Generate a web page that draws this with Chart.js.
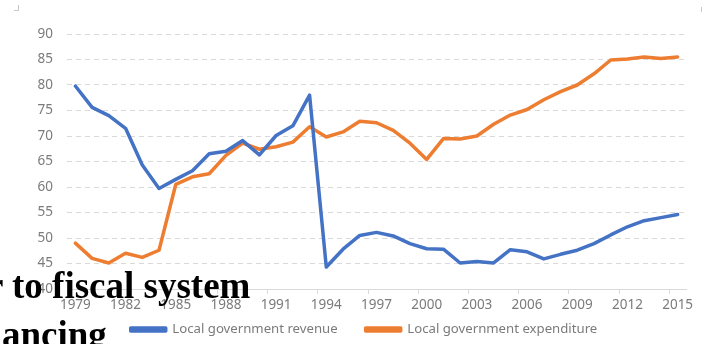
<!DOCTYPE html>
<html>
<head>
<meta charset="utf-8">
<script src="https://cdn.jsdelivr.net/npm/chart.js@4/dist/chart.umd.min.js"></script>
<style>
  html, body { margin: 0; padding: 0; background: #fff; }
  #wrap { position: relative; width: 704px; height: 344px; overflow: hidden; }
  #c { position: absolute; left: 0; top: 0; }
  .mark { position: absolute; border-color: #c8c8c8; border-style: solid; border-width: 0; }
  .overlay {
    position: absolute; white-space: nowrap; color: #000;
    font-family: "Liberation Serif", "DejaVu Serif", serif; font-weight: bold;
    font-size: 37px; line-height: 36px; z-index: 2;
  }
</style>
</head>
<body>
<div id="wrap">
  <canvas id="c" width="704" height="344"></canvas>
  <div class="mark" style="left:14px;top:5px;width:4px;height:5px;border-right-width:1px;border-bottom-width:1px;"></div>
  <div class="mark" style="left:701px;top:7px;width:3px;height:5px;border-left-width:1px;"></div>
  <div class="overlay" style="left:-13px;top:268px;">r to fiscal system</div>
  <div class="overlay" style="left:2px;top:317px;">ancing</div>
</div>
<script>
// Years on the category axis
const years = [
  '1979','1980','1981','1982','1983','1984','1985','1986','1987','1988',
  '1989','1990','1991','1992','1993','1994','1995','1996','1997','1998',
  '1999','2000','2001','2002','2003','2004','2005','2006','2007','2008',
  '2009','2010','2011','2012','2013','2014','2015'
];

// Share of local government revenue (%)
const localRevenue = [
  79.8, 75.6, 74.0, 71.5, 64.3, 59.7, 61.5, 63.2, 66.5, 67.0,
  69.1, 66.3, 70.1, 72.0, 78.0, 44.3, 47.8, 50.5, 51.1, 50.4,
  48.9, 47.9, 47.8, 45.1, 45.4, 45.1, 47.7, 47.3, 45.9, 46.8,
  47.6, 48.9, 50.6, 52.2, 53.4, 54.0, 54.6
];

// Share of local government expenditure (%)
const localExpenditure = [
  49.0, 46.0, 45.1, 47.0, 46.2, 47.6, 60.5, 62.0, 62.6, 66.2,
  68.6, 67.4, 67.9, 68.8, 71.8, 69.8, 70.8, 72.9, 72.6, 71.1,
  68.6, 65.4, 69.5, 69.4, 70.0, 72.3, 74.1, 75.2, 77.1, 78.7,
  80.0, 82.2, 84.9, 85.1, 85.5, 85.2, 85.5
];

const seriesNames = ['Local government revenue', 'Local government expenditure'];
const yMin = 40, yMax = 90, yStep = 5;
const labelEvery = 3;

const BLUE = '#4472C4';
const ORANGE = '#ED7D31';
const AXIS_GREY = '#d9d9d9';
const TEXT_GREY = '#7b7b7b';
const UI_FONT = '"Noto Sans", "Open Sans", sans-serif';

// Grows the laid-out legend box upward and shifts it right,
// so its single row sits just under the axis labels
const legendNudge = {
  id: 'legendNudge',
  afterLayout(chart, args, opts) {
    const lg = chart.legend;
    if (!lg) return;
    lg.left += opts.dx; lg.right += opts.dx;
    lg.top += opts.dy;
    lg.height = lg.bottom - lg.top;
  }
};

new Chart(document.getElementById('c'), {
  type: 'line',
  data: {
    labels: years,
    datasets: [
      {
        label: seriesNames[0], data: localRevenue,
        borderColor: BLUE, backgroundColor: BLUE,
        borderWidth: 3.5, pointRadius: 0, tension: 0,
        borderJoinStyle: 'round', borderCapStyle: 'round'
      },
      {
        label: seriesNames[1], data: localExpenditure,
        borderColor: ORANGE, backgroundColor: ORANGE,
        borderWidth: 3.5, pointRadius: 0, tension: 0,
        borderJoinStyle: 'round', borderCapStyle: 'round'
      }
    ]
  },
  plugins: [legendNudge],
  options: {
    responsive: false,
    animation: false,
    layout: { padding: { left: 20, right: 18, top: 34, bottom: 0 } },
    plugins: {
      tooltip: { enabled: false },
      legendNudge: { dx: 11, dy: -22 },
      legend: {
        position: 'bottom',
        maxHeight: 27,
        labels: {
          boxWidth: 35, boxHeight: 3, padding: 28,
          color: TEXT_GREY,
          font: { family: UI_FONT, size: 13.2 }
        }
      }
    },
    scales: {
      x: {
        offset: true,
        afterFit: (s) => { s.height = 28; },
        grid: {
          offset: true, drawOnChartArea: false, drawTicks: true, tickLength: 5,
          color: (ctx) => (ctx.index % labelEvery === 0 ? AXIS_GREY : 'rgba(0,0,0,0)'),
          tickColor: (ctx) => (ctx.index % labelEvery === 0 ? AXIS_GREY : 'rgba(0,0,0,0)')
        },
        border: { display: true, color: AXIS_GREY, width: 1 },
        ticks: {
          autoSkip: false, maxRotation: 0, padding: 3,
          color: TEXT_GREY, font: { family: UI_FONT, size: 13.5 },
          callback: function (v, i) { return i % labelEvery === 0 ? this.getLabelForValue(v) : ''; }
        }
      },
      y: {
        min: yMin, max: yMax,
        afterFit: (s) => { s.width = 47; },
        grid: {
          drawTicks: false,
          color: (ctx) => (ctx.tick && ctx.tick.value === yMin ? 'rgba(0,0,0,0)' : AXIS_GREY),
          lineWidth: 1
        },
        border: { display: false, dash: [5, 4] },
        ticks: {
          stepSize: yStep, padding: 14,
          color: TEXT_GREY, font: { family: UI_FONT, size: 13.5 }
        }
      }
    }
  }
});
</script>
</body>
</html>
